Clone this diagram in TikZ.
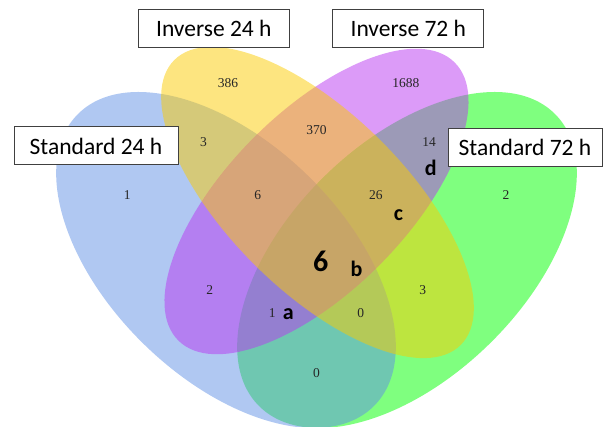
\documentclass[tikz,border=0pt]{standalone}
\usepackage{fontspec}
\setmainfont{Liberation Serif}
\newfontfamily\calfont{Carlito}
\definecolor{cgreen}{RGB}{0,255,0}
\definecolor{cblue}{RGB}{97,145,229}
\definecolor{cpurple}{RGB}{185,55,241}
\definecolor{cyellow}{RGB}{251,203,1}
\definecolor{boxline}{RGB}{64,64,64}
\begin{document}
\begin{tikzpicture}[x=1pt,y=-1pt,
  setfill/.style={fill opacity=0.5},
  num/.style={font=\fontsize{13.5}{16}\selectfont, text=black!85, inner sep=0pt},
  tag/.style={font=\calfont\bfseries\fontsize{22}{26}\selectfont, inner sep=0pt},
  setlabel/.style={draw=boxline, line width=1pt, fill=white, inner sep=0pt,
    font=\calfont\fontsize{23.5}{28}\selectfont, minimum height=38pt}]
\useasboundingbox (0,0) rectangle (603,427);
% ellipses (drawing order: green, blue, purple, yellow)
\fill[cgreen, setfill, rotate around={44.4:(407,260)}] (407,260) ellipse [x radius=207.9pt, y radius=117.6pt];
\fill[cblue, setfill, rotate around={-44.4:(226,260)}] (226,260) ellipse [x radius=207.9pt, y radius=117.6pt];
\fill[cpurple, setfill, rotate around={45.2:(316.5,201.5)}] (316.5,201.5) ellipse [x radius=196pt, y radius=89.5pt];
\fill[cyellow, setfill, rotate around={-44.8:(317.5,202.5)}] (317.5,202.5) ellipse [x radius=202pt, y radius=88.5pt];
% region counts
\node[num] (n386) at (228,82.7) {386};
\node[num] (n1688) at (405.8,82.7) {1688};
\node[num] (n3a) at (203.6,142) {3};
\node[num] (n370) at (316.6,130) {370};
\node[num] (n14) at (429,142) {14};
\node[num] (n1a) at (127.2,195) {1};
\node[num] (n6a) at (257.7,195) {6};
\node[num] (n26) at (375.8,195) {26};
\node[num] (n2b) at (505.9,195) {2};
\node[num] (n2a) at (209.8,290) {2};
\node[num] (n3b) at (422.8,290) {3};
\node[num] (n1b) at (272.2,313.5) {1};
\node[num] (n0a) at (360.8,313.5) {0};
\node[num] (n0b) at (316.6,372.7) {0};
\node[font=\calfont\bfseries\fontsize{30}{34}\selectfont, inner sep=0pt] (n6c) at (320.8,261.7) {6};
% annotation letters
\node[tag] (ta) at (288.2,314.5) {a};
\node[tag] (tb) at (356.6,268.5) {b};
\node[tag] (tc) at (398.5,215) {c};
\node[tag] (td) at (430.8,167.5) {d};
% set labels
\node[setlabel, minimum width=151pt] (inv24) at (213.8,28.3) {Inverse 24 h};
\node[setlabel, minimum width=151pt] (inv72) at (408.3,28.3) {Inverse 72 h};
\node[setlabel, minimum width=164pt] (std24) at (96,146) {Standard 24 h};
\node[setlabel, minimum width=154pt] (std72) at (525,147.3) {Standard 72 h};
\end{tikzpicture}
\end{document}
